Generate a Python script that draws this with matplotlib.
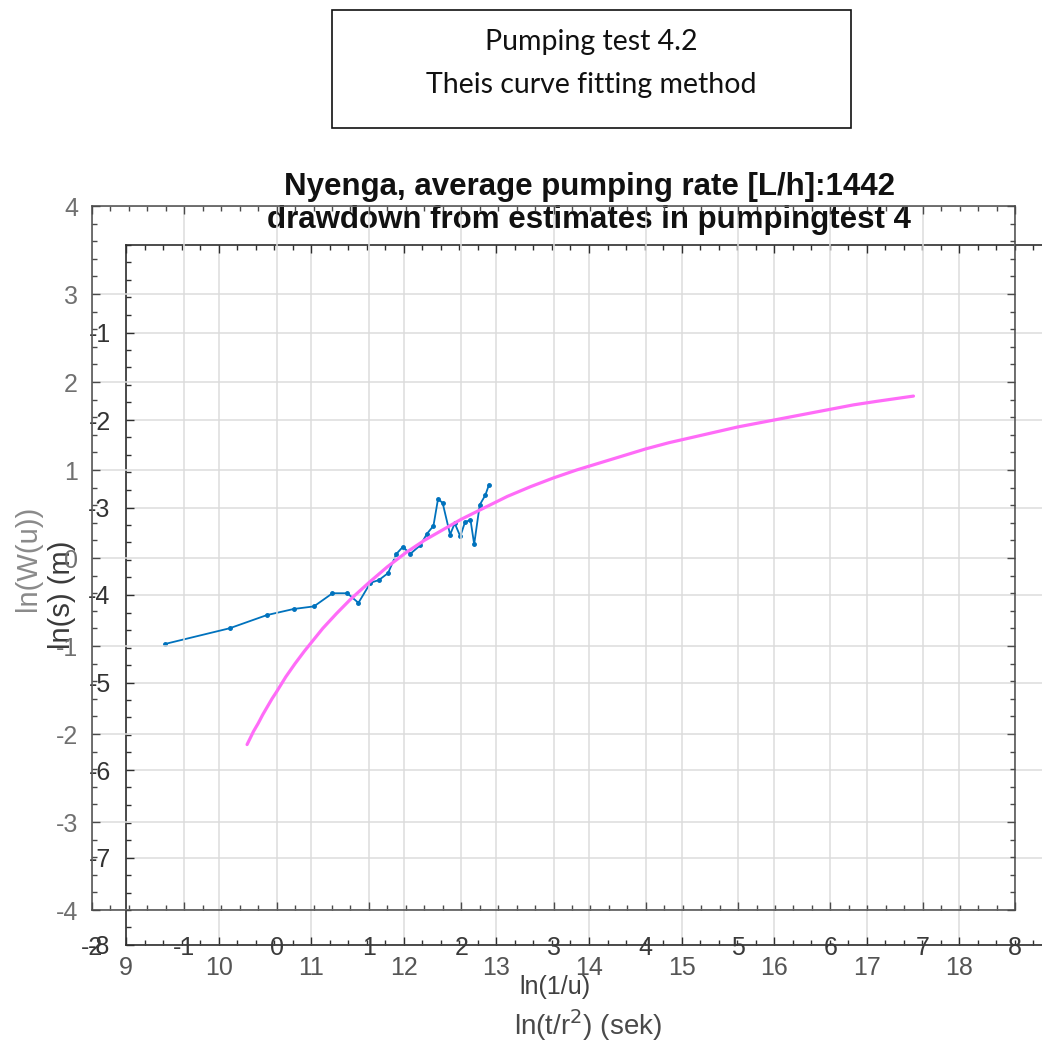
import numpy as np
import matplotlib
matplotlib.use("Agg")
import matplotlib.pyplot as plt
from matplotlib.patches import Rectangle
from matplotlib.ticker import MultipleLocator

plt.rcParams['font.family'] = ['Liberation Sans', 'DejaVu Sans']
plt.rcParams['axes.unicode_minus'] = False

# measured drawdown, ln(t/r^2) vs ln(s)
ln_t_r2 = [9.42, 10.12, 10.52, 10.81, 11.03, 11.23, 11.39, 11.51, 11.64, 11.73,
           11.83, 11.92, 11.99, 12.07, 12.18, 12.25, 12.32, 12.37, 12.42, 12.50,
           12.55, 12.61, 12.66, 12.72, 12.76, 12.82, 12.88, 12.92]
ln_s = [-4.56, -4.38, -4.23, -4.16, -4.13, -3.98, -3.98, -4.09, -3.86, -3.83,
        -3.75, -3.53, -3.45, -3.53, -3.43, -3.30, -3.21, -2.90, -2.95, -3.31,
        -3.18, -3.33, -3.17, -3.14, -3.42, -2.97, -2.86, -2.74]

# Theis type curve, ln(1/u) vs ln(W(u))
ln_inv_u = [-0.32, -0.25, -0.2, -0.15, -0.1, -0.05, 0.0, 0.1, 0.2, 0.3, 0.4,
            0.5, 0.65, 0.8, 1.0, 1.2, 1.4, 1.6, 1.8, 2.0, 2.25, 2.5, 2.75, 3.0,
            3.25, 3.5, 3.75, 4.0, 4.25, 4.5, 4.75, 5.0, 5.25, 5.5, 5.75, 6.0,
            6.25, 6.5, 6.9]
ln_W = [-2.12, -1.97, -1.88, -1.78, -1.69, -1.60, -1.52, -1.35, -1.20, -1.06,
        -0.93, -0.80, -0.63, -0.47, -0.28, -0.10, 0.06, 0.20, 0.32, 0.44,
        0.57, 0.70, 0.81, 0.91, 1.00, 1.08, 1.16, 1.24, 1.31, 1.37, 1.43,
        1.49, 1.54, 1.59, 1.64, 1.69, 1.74, 1.78, 1.84]

W, H = 1042, 1052
fig = plt.figure(figsize=(W / 100, H / 100), dpi=100)

# second axes (data), drawn under the type curve axes
ax_b = fig.add_axes([126 / W, 1 - 945 / H, 926 / W, 700 / H])
# first axes (type curve)
ax_a = fig.add_axes([92 / W, 1 - 910 / H, 923 / W, 704 / H])
ax_a.set_zorder(2)
ax_b.set_zorder(1)
ax_a.patch.set_visible(False)
ax_b.patch.set_visible(False)

for ax in (ax_a, ax_b):
    ax.set_axisbelow(True)
    ax.grid(True, color='#dcdcdc', linewidth=1.1)
    ax.xaxis.set_major_locator(MultipleLocator(1))
    ax.yaxis.set_major_locator(MultipleLocator(1))
    ax.xaxis.set_minor_locator(MultipleLocator(0.2))
    ax.yaxis.set_minor_locator(MultipleLocator(0.2))
    ax.tick_params(which='both', direction='in', top=True, right=True, width=1.0)
    ax.tick_params(which='major', length=6)
    ax.tick_params(which='minor', length=3.5)

# type curve axes
ax_a.plot(ln_inv_u, ln_W, color='#ff6cf8', linewidth=2.3,
          solid_capstyle='round', solid_joinstyle='round')
ax_a.set_xlim(-2, 8)
ax_a.set_ylim(-4, 4)
ax_a.set_xticks(range(-2, 9))
ax_a.set_yticks(range(-4, 5))
for s in ax_a.spines.values():
    s.set_color('#4a4a4a')
    s.set_linewidth(1.1)
ax_a.tick_params(axis='x', which='major', labelsize=18, pad=19, labelcolor='#3a3a3a', color='#4a4a4a')
ax_a.tick_params(axis='y', which='major', labelsize=18, pad=10, labelcolor='#707070', color='#4a4a4a')
ax_a.tick_params(which='minor', color='#4a4a4a')
ax_a.set_xlabel('ln(1/u)', fontsize=18, color='#404040')
ax_a.xaxis.set_label_coords(0.502, -0.109)
ax_a.xaxis.label.set_va('center')
ax_a.set_ylabel('ln(W(u))', fontsize=21, color='#8a8a8a')
ax_a.yaxis.set_label_coords(-0.069, 0.5)
ax_a.yaxis.label.set_va('center')

# data axes
ax_b.plot(ln_t_r2, ln_s, color='#0072bd', linewidth=1.3, marker='.', markersize=5)
ax_b.set_xlim(9, 19)
ax_b.set_ylim(-8, 0)
ax_b.set_xticks(range(9, 19))
ax_b.set_yticks(range(-8, 0))
for s in ax_b.spines.values():
    s.set_color('#2e2e2e')
    s.set_linewidth(1.2)
ax_b.tick_params(axis='x', which='major', labelsize=18, pad=8, labelcolor='#555555', color='#2e2e2e')
ax_b.tick_params(axis='y', which='major', labelsize=18, pad=11, labelcolor='#333333', color='#2e2e2e')
ax_b.tick_params(which='minor', color='#2e2e2e')
ax_b.set_xlabel('ln(t/r$^2$) (sek)', fontsize=20, color='#4a4a4a')
ax_b.xaxis.set_label_coords(0.499, -0.114)
ax_b.xaxis.label.set_va('center')
ax_b.set_ylabel('ln(s) (m)', fontsize=21, color='#3a3a3a')
ax_b.yaxis.set_label_coords(-0.069, 0.5)
ax_b.yaxis.label.set_va('center')
ax_b.set_title('Nyenga, average pumping rate [L/h]:1442\ndrawdown from estimates in pumpingtest 4',
               fontsize=22.5, fontweight='bold', color='#111111', pad=12, linespacing=1.13)

# header box
fig.patches.append(Rectangle((332 / W, 1 - 128 / H), 519 / W, 118 / H,
                             transform=fig.transFigure, fill=False,
                             edgecolor='#111111', linewidth=1.2))
fig.text(591 / W, 1 - 42 / H, 'Pumping test 4.2', ha='center', va='center',
         fontsize=20.5, family=['Lato', 'DejaVu Sans'], color='#111111')
fig.text(591 / W, 1 - 85 / H, 'Theis curve fitting method', ha='center', va='center',
         fontsize=20.5, family=['Lato', 'DejaVu Sans'], color='#111111')

fig.savefig('out.png', dpi=100)
